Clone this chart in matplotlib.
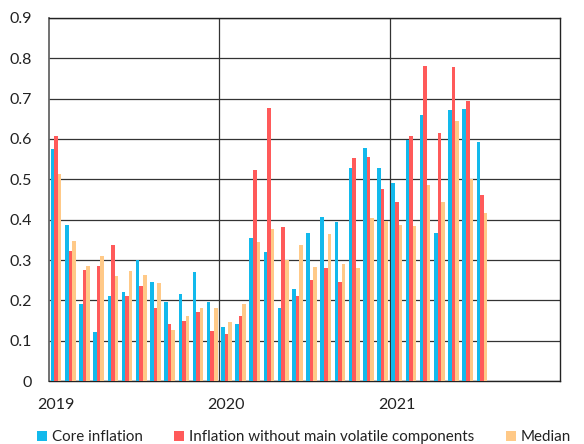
import matplotlib
matplotlib.use("Agg")
import matplotlib.pyplot as plt
from matplotlib.patches import Patch
import numpy as np
import pandas as pd

months = pd.period_range("2019-01", "2021-07", freq="M")
year_labels = ["2019", "2020", "2021"]

core = [0.574, 0.386, 0.191, 0.122, 0.211, 0.220, 0.301, 0.246, 0.197, 0.216, 0.270, 0.197,
        0.135, 0.142, 0.355, 0.321, 0.180, 0.227, 0.367, 0.406, 0.393, 0.529, 0.578, 0.529,
        0.491, 0.597, 0.659, 0.367, 0.673, 0.675, 0.592]
excl_volatile = [0.607, 0.323, 0.276, 0.284, 0.338, 0.211, 0.236, 0.181, 0.141, 0.149, 0.172, 0.124,
                 0.117, 0.160, 0.524, 0.676, 0.382, 0.211, 0.251, 0.279, 0.245, 0.554, 0.556, 0.475,
                 0.443, 0.607, 0.781, 0.614, 0.779, 0.694, 0.460]
median = [0.514, 0.348, 0.286, 0.310, 0.260, 0.272, 0.264, 0.242, 0.127, 0.162, 0.181, 0.182,
          0.147, 0.190, 0.344, 0.376, 0.301, 0.337, 0.283, 0.365, 0.289, 0.281, 0.405, 0.396,
          0.386, 0.384, 0.485, 0.443, 0.644, 0.502, 0.416]

series_names = ["Core inflation", "Inflation without main volatile components", "Median"]
colors = ["#12B9EC", "#FF5A5A", "#FFC987"]

plt.rcParams["font.family"] = ["Lato", "DejaVu Sans"]
plt.rcParams["font.size"] = 11

fig = plt.figure(figsize=(5.84, 4.44), dpi=100)
ax = fig.add_axes([49 / 584, 1 - 381 / 444, (560 - 49) / 584, (381 - 18) / 444])

x = np.arange(len(months)) + 0.5
w = 0.25
for k, (vals, c) in enumerate(zip([core, excl_volatile, median], colors)):
    ax.bar(x + (k - 1) * w, vals, width=w, color=c, zorder=3, linewidth=0)

ax.set_xlim(0, 36)
ax.set_ylim(0, 0.9)
ax.set_yticks(np.arange(0, 0.91, 0.1))
ax.set_yticklabels(["0", "0.1", "0.2", "0.3", "0.4", "0.5", "0.6", "0.7", "0.8", "0.9"])
ax.set_xticks([0.5, 12.5, 24.5])
ax.set_xticklabels(year_labels)
ax.tick_params(axis="y", length=0, pad=12, labelsize=11.5, colors="#222222")
ax.tick_params(axis="x", length=0, pad=12, labelsize=11.5, colors="#222222")
ax.yaxis.grid(True, color="#333333", linewidth=0.9, zorder=1)
for xv in [12, 24]:
    ax.axvline(xv, color="#333333", linewidth=0.9, zorder=1)
for s in ax.spines.values():
    s.set_color("#222222")
    s.set_linewidth(1.0)
ax.spines["left"].set_color("#666666")
ax.spines["left"].set_linewidth(1.3)

handles = [Patch(facecolor=c, edgecolor="none") for c in colors]
fig.legend(handles, series_names, loc="center", bbox_to_anchor=(304 / 584, 7 / 444),
           ncol=3, frameon=False, handlelength=0.65, handleheight=0.65, handletextpad=0.3,
           columnspacing=2.1, borderpad=0, fontsize=10.9, labelcolor="#222222")

fig.savefig("out.png", dpi=100)
